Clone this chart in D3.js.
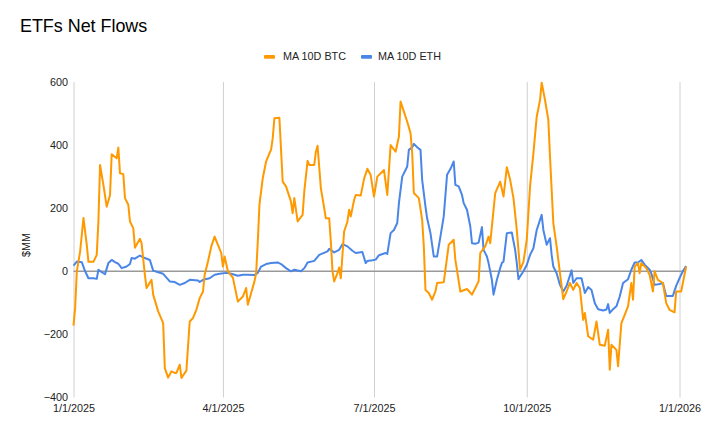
<!DOCTYPE html>
<html>
<head>
<meta charset="utf-8">
<script src="https://cdn.jsdelivr.net/npm/d3@7/dist/d3.min.js"></script>
<style>
  html, body { margin: 0; padding: 0; background: #fff; }
  svg { display: block; font-family: "Liberation Sans", Arial, sans-serif; }
</style>
</head>
<body>
<svg id="chart" width="706" height="427"></svg>
<script>
const title = "ETFs Net Flows";
const seriesNames = ["MA 10D BTC", "MA 10D ETH"];
const yTicks = [-400, -200, 0, 200, 400, 600];
const xTickDates = ["2025-01-01", "2025-04-01", "2025-07-01", "2025-10-01", "2026-01-01"];
const xTickLabels = ["1/1/2025", "4/1/2025", "7/1/2025", "10/1/2025", "1/1/2026"];

const btcDates = ["2025-01-01","2025-01-02","2025-01-03","2025-01-05","2025-01-07","2025-01-09","2025-01-10","2025-01-13","2025-01-15","2025-01-16","2025-01-17","2025-01-19","2025-01-21","2025-01-23","2025-01-24","2025-01-27","2025-01-28","2025-01-29","2025-01-31","2025-02-01","2025-02-03","2025-02-04","2025-02-06","2025-02-07","2025-02-10","2025-02-11","2025-02-13","2025-02-14","2025-02-17","2025-02-18","2025-02-21","2025-02-24","2025-02-25","2025-02-27","2025-03-01","2025-03-03","2025-03-04","2025-03-06","2025-03-07","2025-03-10","2025-03-12","2025-03-14","2025-03-16","2025-03-18","2025-03-20","2025-03-21","2025-03-23","2025-03-25","2025-03-27","2025-03-29","2025-03-31","2025-04-01","2025-04-02","2025-04-04","2025-04-07","2025-04-10","2025-04-13","2025-04-15","2025-04-16","2025-04-18","2025-04-20","2025-04-21","2025-04-22","2025-04-23","2025-04-25","2025-04-27","2025-04-29","2025-04-30","2025-05-01","2025-05-02","2025-05-05","2025-05-07","2025-05-09","2025-05-12","2025-05-13","2025-05-14","2025-05-16","2025-05-19","2025-05-20","2025-05-22","2025-05-23","2025-05-26","2025-05-27","2025-05-28","2025-05-30","2025-06-01","2025-06-02","2025-06-04","2025-06-05","2025-06-06","2025-06-07","2025-06-09","2025-06-10","2025-06-11","2025-06-13","2025-06-15","2025-06-16","2025-06-17","2025-06-19","2025-06-20","2025-06-23","2025-06-25","2025-06-27","2025-06-29","2025-07-01","2025-07-03","2025-07-07","2025-07-09","2025-07-11","2025-07-14","2025-07-16","2025-07-17","2025-07-19","2025-07-21","2025-07-23","2025-07-24","2025-07-25","2025-07-28","2025-07-30","2025-07-31","2025-08-01","2025-08-03","2025-08-05","2025-08-07","2025-08-08","2025-08-12","2025-08-15","2025-08-18","2025-08-19","2025-08-22","2025-08-26","2025-08-29","2025-08-31","2025-09-02","2025-09-03","2025-09-06","2025-09-08","2025-09-09","2025-09-12","2025-09-15","2025-09-17","2025-09-19","2025-09-21","2025-09-23","2025-09-25","2025-09-27","2025-09-29","2025-10-01","2025-10-03","2025-10-05","2025-10-07","2025-10-09","2025-10-10","2025-10-12","2025-10-14","2025-10-15","2025-10-17","2025-10-19","2025-10-21","2025-10-23","2025-10-25","2025-10-27","2025-10-29","2025-10-31","2025-11-02","2025-11-04","2025-11-05","2025-11-07","2025-11-10","2025-11-12","2025-11-14","2025-11-17","2025-11-19","2025-11-20","2025-11-21","2025-11-24","2025-11-25","2025-11-27","2025-11-29","2025-12-01","2025-12-03","2025-12-04","2025-12-05","2025-12-07","2025-12-08","2025-12-09","2025-12-12","2025-12-14","2025-12-16","2025-12-17","2025-12-19","2025-12-22","2025-12-24","2025-12-26","2025-12-29","2025-12-30","2026-01-02","2026-01-05"];
const btcValues = [-172,-116,0,63,169,84,30,30,52,158,337,274,205,242,371,358,392,311,308,232,211,158,137,75,103,89,-11,-53,-27,-74,-127,-164,-307,-337,-317,-322,-322,-296,-338,-315,-159,-148,-122,-85,-64,-11,31,79,110,84,58,15,47,0,-20,-96,-80,-53,-106,-69,-32,-6,94,211,295,348,374,385,422,485,487,284,269,221,184,232,158,179,253,350,337,337,379,398,263,200,168,168,94,0,-32,-6,12,-22,126,158,195,174,226,242,240,293,325,305,237,300,321,242,400,379,427,538,506,474,438,374,248,232,163,79,-59,-69,-90,-64,-37,-35,84,100,36,-64,-56,-74,-53,-32,58,79,110,89,248,284,237,330,290,232,131,5,30,100,270,374,490,543,598,543,480,364,153,79,-6,-88,-64,-37,-59,-37,-53,-154,-132,-206,-217,-159,-233,-236,-185,-312,-233,-249,-301,-164,-138,-111,-37,-90,15,26,-6,26,10,-11,-64,0,-27,-37,-101,-122,-130,-64,-64,15];

const ethDates = ["2025-01-01","2025-01-03","2025-01-06","2025-01-08","2025-01-10","2025-01-13","2025-01-15","2025-01-16","2025-01-18","2025-01-20","2025-01-22","2025-01-24","2025-01-26","2025-01-28","2025-01-30","2025-02-02","2025-02-04","2025-02-05","2025-02-07","2025-02-10","2025-02-13","2025-02-16","2025-02-18","2025-02-21","2025-02-24","2025-02-26","2025-02-28","2025-03-03","2025-03-06","2025-03-09","2025-03-12","2025-03-17","2025-03-18","2025-03-20","2025-03-24","2025-03-27","2025-03-30","2025-04-03","2025-04-06","2025-04-10","2025-04-13","2025-04-16","2025-04-20","2025-04-22","2025-04-24","2025-04-27","2025-04-30","2025-05-04","2025-05-06","2025-05-09","2025-05-12","2025-05-14","2025-05-18","2025-05-20","2025-05-22","2025-05-26","2025-05-29","2025-06-03","2025-06-04","2025-06-07","2025-06-10","2025-06-12","2025-06-15","2025-06-18","2025-06-20","2025-06-24","2025-06-26","2025-06-27","2025-06-30","2025-07-02","2025-07-04","2025-07-08","2025-07-09","2025-07-11","2025-07-13","2025-07-15","2025-07-16","2025-07-18","2025-07-20","2025-07-21","2025-07-22","2025-07-24","2025-07-25","2025-07-27","2025-07-29","2025-07-30","2025-08-01","2025-08-02","2025-08-04","2025-08-06","2025-08-08","2025-08-10","2025-08-12","2025-08-14","2025-08-16","2025-08-18","2025-08-19","2025-08-21","2025-08-23","2025-08-24","2025-08-26","2025-08-28","2025-08-29","2025-08-31","2025-09-02","2025-09-04","2025-09-05","2025-09-07","2025-09-08","2025-09-10","2025-09-11","2025-09-13","2025-09-15","2025-09-16","2025-09-17","2025-09-19","2025-09-22","2025-09-24","2025-09-25","2025-09-26","2025-09-27","2025-09-29","2025-10-01","2025-10-03","2025-10-05","2025-10-07","2025-10-09","2025-10-10","2025-10-11","2025-10-13","2025-10-15","2025-10-16","2025-10-17","2025-10-19","2025-10-21","2025-10-23","2025-10-25","2025-10-28","2025-10-29","2025-10-31","2025-11-03","2025-11-05","2025-11-07","2025-11-09","2025-11-11","2025-11-13","2025-11-16","2025-11-18","2025-11-19","2025-11-20","2025-11-22","2025-11-24","2025-11-26","2025-11-28","2025-12-01","2025-12-03","2025-12-05","2025-12-07","2025-12-09","2025-12-11","2025-12-14","2025-12-15","2025-12-17","2025-12-20","2025-12-22","2025-12-24","2025-12-28","2025-12-30","2026-01-01","2026-01-03","2026-01-05"];
const ethValues = [18,31,29,0,-22,-22,-24,5,-3,-9,26,36,29,24,10,15,23,42,40,50,42,36,2,-3,-8,-20,-32,-34,-43,-37,-27,-29,-34,-27,-22,-11,-8,-5,-8,-14,-11,-11,-12,-5,15,23,26,28,23,10,0,5,0,10,28,33,52,63,71,60,68,86,79,65,58,61,26,33,35,37,51,58,55,121,131,153,216,300,321,332,385,393,404,393,385,290,205,168,121,47,47,110,174,306,324,348,274,269,242,216,195,142,89,87,91,140,68,47,26,-27,-74,-27,10,26,31,121,123,68,26,-25,-16,0,20,52,73,131,163,179,131,84,105,52,15,-6,-43,-64,-46,3,-37,-22,-22,-69,-50,-59,-101,-120,-124,-121,-104,-132,-120,-111,-80,-37,-25,5,28,28,36,21,5,-6,-43,-40,-37,-78,-78,-46,-22,0,17];

const colors = ["#ff9900", "#4a86e8"];
const smallFont = 10.8;

const parse = d3.utcParse("%Y-%m-%d");
const svg = d3.select("#chart");

const x = d3.scaleUtc()
  .domain([parse("2025-01-01"), parse("2026-01-01")])
  .range([73.5, 679.5]);
const y = d3.scaleLinear().domain([-400, 600]).range([397.5, 82]);

// title
svg.append("text").attr("x", 20).attr("y", 32)
  .attr("font-size", 17.9).attr("fill", "#000").text(title);

// vertical gridlines + x labels
const xAxis = d3.axisBottom(x)
  .tickValues(xTickDates.map(parse))
  .tickFormat((d, i) => xTickLabels[i])
  .tickSize(-(397.5 - 82));
const gx = svg.append("g").attr("transform", "translate(0,397.5)").call(xAxis);
gx.select(".domain").remove();
gx.selectAll(".tick line").attr("stroke", "#d0d0d0").attr("stroke-width", 1);
gx.selectAll(".tick text").attr("font-size", smallFont).attr("fill", "#222")
  .attr("font-family", "Liberation Sans, Arial, sans-serif")
  .attr("y", 14.5).attr("dy", 0);

// y axis labels
const yAxis = d3.axisLeft(y).tickValues(yTicks).tickSize(0).tickPadding(5.5);
const gy = svg.append("g").attr("transform", "translate(73.5,0)").call(yAxis);
gy.select(".domain").remove();
gy.selectAll(".tick text").attr("font-size", smallFont).attr("fill", "#222")
  .attr("font-family", "Liberation Sans, Arial, sans-serif");

// y title
svg.append("text")
  .attr("transform", "translate(29.5,245) rotate(-90)")
  .attr("text-anchor", "middle").attr("font-size", smallFont).attr("fill", "#222")
  .text("$MM");

// zero baseline
svg.append("line")
  .attr("x1", 73.5).attr("x2", 686).attr("y1", y(0)).attr("y2", y(0))
  .attr("stroke", "#999").attr("stroke-width", 1.6);

const line = d3.line().x(d => x(d[0])).y(d => y(d[1]));
const series = [
  btcDates.map((d, i) => [parse(d), btcValues[i]]),
  ethDates.map((d, i) => [parse(d), ethValues[i]])
];
[1, 0].forEach(k => {
  svg.append("path").datum(series[k])
    .attr("fill", "none").attr("stroke", colors[k]).attr("stroke-width", 2)
    .attr("stroke-linejoin", "round").attr("d", line);
});

// legend
const legendItems = [{x: 264, tx: 283}, {x: 361, tx: 378}];
legendItems.forEach((it, i) => {
  svg.append("rect").attr("x", it.x).attr("y", 55).attr("width", 11).attr("height", 3.8)
    .attr("rx", 1).attr("fill", colors[i]);
  svg.append("text").attr("x", it.tx).attr("y", 60.3).attr("font-size", smallFont)
    .attr("fill", "#222").text(seriesNames[i]);
});
</script>
</body>
</html>
